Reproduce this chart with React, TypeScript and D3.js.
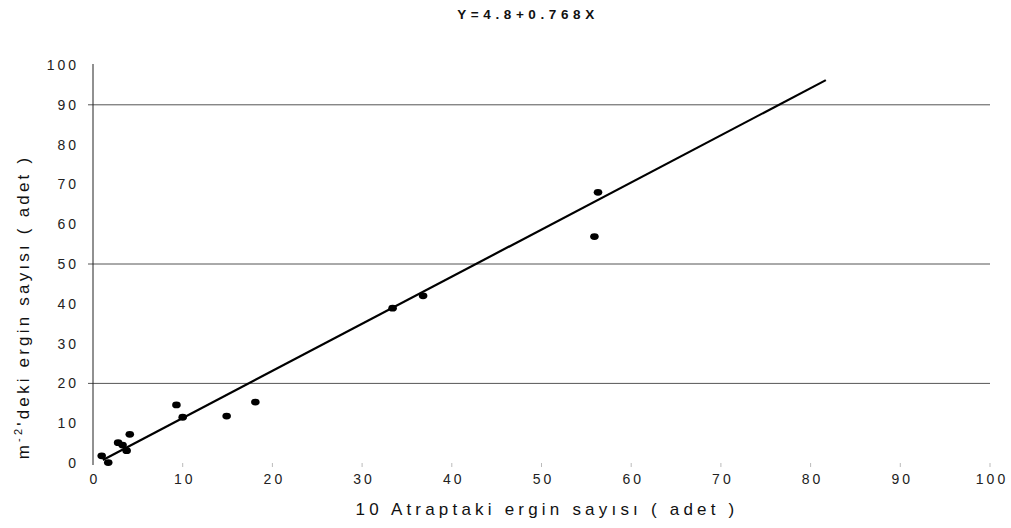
import React from 'react';
import * as d3 from 'd3';

// observed points (10 atrap count vs per m2 count)
const atrapX = [0.97, 1.7, 2.8, 3.3, 3.75, 4.1, 9.3, 10.0, 14.9, 18.1, 33.4, 36.8, 56.3, 55.9];
const m2Y = [1.8, 0.1, 5.1, 4.5, 3.1, 7.2, 14.6, 11.5, 11.8, 15.3, 38.9, 42.0, 68.0, 56.9];

// fitted line as drawn in the source (start / end)
const fitX = [1.1, 81.7];
const fitY = [0.75, 96.2];

const xTicks = [0, 10, 20, 30, 40, 50, 60, 70, 80, 90, 100];
const yTicks = [0, 10, 20, 30, 40, 50, 60, 70, 80, 90, 100];
const gridValues = [20, 50, 90];

const title = 'Y=4.8+0.768X';
const xTitle = '10 Atraptaki ergin sayısı ( adet )';

const W = 1011;
const H = 528;

export default function App() {
    const x = d3.scaleLinear().domain([0, 100]).range([93, 990]);
    const y = d3.scaleLinear().domain([0, 100]).range([463, 65]);

    const points = atrapX.map((v, i) => ({ x: v, y: m2Y[i] }));
    const fit = fitX.map((v, i) => ({ x: v, y: fitY[i] }));
    const line = d3.line<{ x: number; y: number }>()
        .x(d => x(d.x))
        .y(d => y(d.y));

    const font = '"Liberation Sans", Arial, sans-serif';

    return (
        <svg
            width={W}
            height={H}
            style={{ position: 'absolute', left: 0, top: 0, background: '#fff' }}
            fontFamily={font}
        >
            <text
                x={528}
                y={19}
                textAnchor="middle"
                fontSize={13.5}
                fontWeight="bold"
                letterSpacing={4.6}
                fill="#111"
            >
                {title}
            </text>

            {/* grid */}
            {gridValues.map(v => (
                <line key={v} x1={88} x2={990} y1={y(v)} y2={y(v)} stroke="#555" strokeWidth={1} />
            ))}

            {/* y axis */}
            <line x1={93} x2={93} y1={y(100) - 1} y2={y(0) + 2} stroke="#222" strokeWidth={1} />
            {yTicks.map(v => (
                <text
                    key={v}
                    x={79}
                    y={y(v) + 5}
                    textAnchor="end"
                    fontSize={14}
                    letterSpacing={3}
                    fill="#222"
                >
                    {v}
                </text>
            ))}

            {/* x ticks (faint) */}
            {xTicks.filter(v => v > 0).map(v => (
                <line key={v} x1={x(v)} x2={x(v)} y1={463} y2={467} stroke="#bbb" strokeWidth={1} />
            ))}
            {xTicks.map(v => (
                <text
                    key={v}
                    x={x(v) + 2}
                    y={484}
                    textAnchor="middle"
                    fontSize={14}
                    letterSpacing={3}
                    fill="#222"
                >
                    {v}
                </text>
            ))}

            <text
                x={547}
                y={515}
                textAnchor="middle"
                fontSize={17}
                letterSpacing={4.2}
                fill="#111"
            >
                {xTitle}
            </text>

            <text
                transform="translate(29,307) rotate(-90)"
                textAnchor="middle"
                fontSize={17}
                letterSpacing={3.2}
                fill="#111"
            >
                m
                <tspan fontSize={11} dy={-7}>-2</tspan>
                <tspan dy={7}>'deki ergin sayısı ( adet )</tspan>
            </text>

            {/* fit line */}
            <path d={line(fit) || ''} fill="none" stroke="#000" strokeWidth={2.2} />

            {/* points */}
            {points.map((p, i) => (
                <ellipse key={i} cx={x(p.x)} cy={y(p.y)} rx={4.3} ry={3.4} fill="#000" />
            ))}
        </svg>
    );
}
